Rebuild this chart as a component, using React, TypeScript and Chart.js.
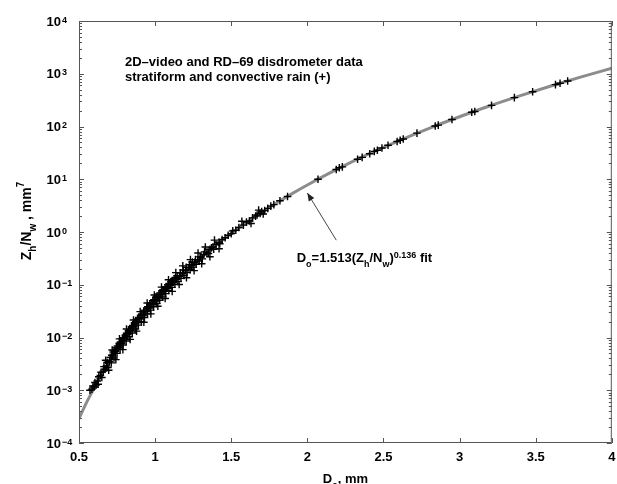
import { useEffect, useRef } from 'react';
import { Chart, registerables } from 'chart.js';

Chart.register(...registerables);

// ---- data ----
const xTickValues = [0.5, 1, 1.5, 2, 2.5, 3, 3.5, 4];
const yExponents = [-4, -3, -2, -1, 0, 1, 2, 3, 4];
const yExponentLabels = ['\u22124', '\u22123', '\u22122', '\u22121', '0', '1', '2', '3', '4'];

// fitted curve D0 = 1.513 (Zh/Nw)^0.136
const fitD = [0.5, 0.55, 0.6, 0.65, 0.7, 0.8, 0.9, 1.0, 1.1, 1.2, 1.3, 1.4, 1.5, 1.6, 1.7, 1.8, 1.9, 2.0, 2.2, 2.4, 2.6, 2.8, 3.0, 3.2, 3.4, 3.6, 3.8, 4.0];
const fitZ = [2.91e-4, 5.87e-4, 1.11e-3, 2.0e-3, 3.46e-3, 9.23e-3, 2.19e-2, 4.76e-2, 9.59e-2, 0.182, 0.328, 0.565, 0.939, 1.51, 2.36, 3.59, 5.34, 7.78, 15.7, 29.8, 53.6, 92.4, 153, 247, 385, 587, 873, 1273];

// disdrometer observations (+)
const obsD = [
  0.572, 0.585, 0.592, 0.600, 0.605, 0.612, 0.620, 0.626, 0.630, 0.640, 0.645, 0.650,
  0.660, 0.664, 0.672, 0.680, 0.685, 0.690, 0.700, 0.705, 0.712, 0.715,
  0.720, 0.725, 0.730, 0.733, 0.740, 0.745, 0.750, 0.753,
  0.760, 0.765, 0.770, 0.773, 0.780, 0.785, 0.790, 0.793,
  0.800, 0.805, 0.810, 0.813, 0.820, 0.825, 0.830, 0.833,
  0.840, 0.845, 0.850, 0.853, 0.860, 0.865, 0.870, 0.873,
  0.880, 0.885, 0.890, 0.893, 0.900, 0.905, 0.910, 0.913,
  0.920, 0.925, 0.930, 0.933, 0.940, 0.945, 0.950, 0.953,
  0.960, 0.965, 0.970, 0.973, 0.980, 0.985, 0.990, 0.993,
  1.000, 1.005, 1.010, 1.013, 1.020, 1.025, 1.030, 1.033,
  1.040, 1.045, 1.050, 1.053, 1.060, 1.065, 1.070, 1.073,
  1.080, 1.085, 1.090, 1.093, 1.100, 1.105, 1.110, 1.113,
  1.120, 1.125, 1.130, 1.133, 1.140, 1.145, 1.150,
  1.160, 1.165, 1.170, 1.180, 1.185, 1.190,
  1.200, 1.205, 1.210, 1.220, 1.225, 1.230,
  1.240, 1.245, 1.250, 1.260, 1.265, 1.270,
  1.280, 1.290, 1.295, 1.300, 1.310, 1.320, 1.325,
  1.340, 1.350, 1.360, 1.370, 1.380, 1.385, 1.400,
  1.420, 1.425, 1.440, 1.460,
  0.675, 0.695, 0.718, 0.742, 0.766, 0.788, 0.812, 0.836, 0.858, 0.878,
  0.902, 0.926, 0.948, 0.972, 0.995, 1.018, 1.042, 1.066, 1.088, 1.112,
  1.136, 1.158, 1.182, 1.206, 1.232, 1.256, 1.282, 1.306, 1.330, 1.360,
  1.390, 1.420,
  1.48, 1.50, 1.51, 1.53, 1.55, 1.57, 1.58, 1.60, 1.62, 1.63, 1.64, 1.66,
  1.67, 1.68, 1.69, 1.70, 1.71, 1.72, 1.74, 1.76, 1.78, 1.82, 1.87,
  2.07, 2.19, 2.21, 2.23, 2.33, 2.36, 2.41, 2.44, 2.46, 2.49,
  2.53, 2.59, 2.61, 2.63, 2.72, 2.84, 2.86, 2.95,
  3.08, 3.10, 3.21, 3.36, 3.48, 3.63, 3.66, 3.71,
];
const obsZ = [
  1.0e-3, 1.05e-3, 1.2e-3, 1.15e-3, 1.4e-3, 1.25e-3, 1.5e-3, 1.3e-3, 1.8e-3, 1.9e-3, 2.2e-3, 1.75e-3,
  2.3e-3, 2.8e-3, 2.5e-3, 2.9e-3, 3.4e-3, 2.7e-3, 3.5e-3, 4.2e-3, 3.3e-3, 4.6e-3,
  4.5e-3, 5.3e-3, 4.1e-3, 5.6e-3, 5.4e-3, 6.5e-3, 5.0e-3, 6.9e-3,
  6.4e-3, 7.8e-3, 6.0e-3, 8.2e-3, 7.8e-3, 9.4e-3, 7.2e-3, 9.9e-3,
  9.5e-3, 1.12e-2, 8.6e-3, 1.2e-2, 1.15e-2, 1.35e-2, 1.03e-2, 1.42e-2,
  1.35e-2, 1.6e-2, 1.22e-2, 1.7e-2, 1.6e-2, 1.9e-2, 1.45e-2, 2.0e-2,
  1.9e-2, 2.25e-2, 1.72e-2, 2.4e-2, 2.25e-2, 2.65e-2, 2.0e-2, 2.8e-2,
  2.6e-2, 3.1e-2, 2.4e-2, 3.3e-2, 3.1e-2, 3.65e-2, 2.8e-2, 3.85e-2,
  3.6e-2, 4.3e-2, 3.3e-2, 4.5e-2, 4.2e-2, 5.0e-2, 3.8e-2, 5.2e-2,
  4.9e-2, 5.8e-2, 4.4e-2, 6.0e-2, 5.6e-2, 6.6e-2, 5.1e-2, 7.0e-2,
  6.5e-2, 7.7e-2, 5.9e-2, 8.0e-2, 7.5e-2, 8.8e-2, 6.8e-2, 9.2e-2,
  8.6e-2, 0.100, 7.8e-2, 0.105, 9.8e-2, 0.115, 8.9e-2, 0.120,
  0.112, 0.130, 0.102, 0.136, 0.127, 0.148, 0.116,
  0.145, 0.168, 0.132, 0.165, 0.190, 0.150,
  0.186, 0.215, 0.170, 0.210, 0.240, 0.192,
  0.236, 0.270, 0.216, 0.265, 0.300, 0.245,
  0.300, 0.280, 0.340, 0.335, 0.310, 0.375, 0.420,
  0.410, 0.390, 0.470, 0.500, 0.520, 0.470, 0.580,
  0.640, 0.600, 0.720, 0.780,
  3.7e-3, 2.4e-3, 5.8e-3, 3.8e-3, 9.4e-3, 5.9e-3, 1.45e-2, 9.2e-3, 2.15e-2, 1.32e-2,
  3.1e-2, 1.95e-2, 4.5e-2, 2.8e-2, 6.4e-2, 3.9e-2, 9.0e-2, 5.5e-2, 0.124, 0.075,
  0.170, 0.101, 0.228, 0.136, 0.300, 0.185, 0.400, 0.250, 0.520, 0.340,
  0.700, 0.480,
  0.87, 0.93, 1.05, 1.08, 1.22, 1.60, 1.35, 1.55, 1.62, 1.45, 1.85, 2.0,
  2.1, 2.6, 2.25, 2.45, 2.2, 2.55, 2.8, 3.1, 3.3, 3.9, 4.7,
  10.0, 15.3, 16.5, 17.2, 24.0, 26, 30.5, 33.7, 35.5, 39,
  44, 52, 55, 58, 75, 102, 106, 136,
  186, 192, 252, 353, 457, 623, 662, 730,
];

// annotation anchor points (data coordinates)
const arrowTip = { x: 2.0, y: 5.5 };
const arrowTail = { x: 2.19, y: 0.7 };

const FONT = '"Liberation Sans", Arial, Helvetica, sans-serif';

type Seg = { t: string; size: number; dy?: number };

function drawRich(ctx: CanvasRenderingContext2D, x: number, y: number, segs: Seg[], align: 'left' | 'center' | 'right' = 'left') {
  let w = 0;
  for (const s of segs) {
    ctx.font = `bold ${s.size}px ${FONT}`;
    w += ctx.measureText(s.t).width;
  }
  let cx = align === 'center' ? x - w / 2 : align === 'right' ? x - w : x;
  ctx.textAlign = 'left';
  ctx.textBaseline = 'alphabetic';
  for (const s of segs) {
    ctx.font = `bold ${s.size}px ${FONT}`;
    ctx.fillText(s.t, cx, y + (s.dy || 0));
    cx += ctx.measureText(s.t).width;
  }
}

const decorPlugin = {
  id: 'decor',
  afterDraw(chart: any) {
    const { ctx, chartArea, scales } = chart;
    const { left, right, top, bottom } = chartArea;
    const xs = scales.x;
    const ys = scales.y;
    ctx.save();

    // frame
    ctx.strokeStyle = '#555';
    ctx.lineWidth = 1;
    ctx.strokeRect(left + 0.5, top + 0.5, right - left - 1, bottom - top - 1);

    // x ticks (inward, bottom and top)
    ctx.beginPath();
    for (const v of xTickValues) {
      const px = Math.round(xs.getPixelForValue(v)) + 0.5;
      ctx.moveTo(px, bottom);
      ctx.lineTo(px, bottom - 5);
      ctx.moveTo(px, top);
      ctx.lineTo(px, top + 5);
    }
    // y ticks (major + minor, both sides)
    for (let e = -4; e < 4; e++) {
      for (let m = 1; m <= 9; m++) {
        const py = Math.round(ys.getPixelForValue(m * Math.pow(10, e))) + 0.5;
        const len = m === 1 ? 5 : 3;
        ctx.moveTo(left, py);
        ctx.lineTo(left + len, py);
        ctx.moveTo(right, py);
        ctx.lineTo(right - len, py);
      }
    }
    ctx.stroke();

    ctx.fillStyle = '#000';
    // y tick labels with superscripts
    yExponents.forEach((e, i) => {
      const py = ys.getPixelForValue(Math.pow(10, e));
      drawRich(ctx, left - 18, py + 4.7, [{ t: '10', size: 13 }], 'right');
      drawRich(ctx, left - 17, py + 1.5, [{ t: yExponentLabels[i], size: 9 }], 'left');
    });

    // x axis title
    drawRich(ctx, (left + right) / 2, chart.height - 1, [
      { t: 'D', size: 13 },
      { t: 'o', size: 9, dy: 5 },
      { t: ', mm', size: 13 },
    ], 'center');

    // y axis title (rotated)
    ctx.save();
    ctx.translate(31, (top + bottom) / 2 - 11);
    ctx.rotate(-Math.PI / 2);
    drawRich(ctx, 0, 0, [
      { t: 'Z', size: 14 },
      { t: 'h', size: 10, dy: 5 },
      { t: '/N', size: 14 },
      { t: 'w', size: 10, dy: 5 },
      { t: ' , mm', size: 14 },
      { t: '7', size: 10, dy: -7 },
    ], 'center');
    ctx.restore();

    // top-left text
    drawRich(ctx, left + 46, top + 45, [{ t: '2D\u2013video and RD\u201369 disdrometer data', size: 13 }]);
    drawRich(ctx, left + 46, top + 60, [{ t: 'stratiform and convective rain (+)', size: 13 }]);

    // arrow
    const tx = xs.getPixelForValue(arrowTip.x);
    const ty = ys.getPixelForValue(arrowTip.y);
    const sx = xs.getPixelForValue(arrowTail.x);
    const sy = ys.getPixelForValue(arrowTail.y);
    ctx.strokeStyle = '#444';
    ctx.lineWidth = 1;
    ctx.beginPath();
    ctx.moveTo(sx, sy);
    ctx.lineTo(tx, ty);
    ctx.stroke();
    const ang = Math.atan2(ty - sy, tx - sx);
    const ah = 8, aw = 3.2;
    ctx.fillStyle = '#222';
    ctx.beginPath();
    ctx.moveTo(tx, ty);
    ctx.lineTo(tx - ah * Math.cos(ang) + aw * Math.sin(ang), ty - ah * Math.sin(ang) - aw * Math.cos(ang));
    ctx.lineTo(tx - ah * Math.cos(ang) - aw * Math.sin(ang), ty - ah * Math.sin(ang) + aw * Math.cos(ang));
    ctx.closePath();
    ctx.fill();

    // fit annotation
    ctx.fillStyle = '#000';
    const ax = xs.getPixelForValue(1.93);
    const ay = ys.getPixelForValue(0.27);
    drawRich(ctx, ax, ay, [
      { t: 'D', size: 13 },
      { t: 'o', size: 9, dy: 5 },
      { t: '=1.513(Z', size: 13 },
      { t: 'h', size: 9, dy: 5 },
      { t: '/N', size: 13 },
      { t: 'w', size: 9, dy: 5 },
      { t: ')', size: 13 },
      { t: '0.136', size: 9, dy: -4 },
      { t: ' fit', size: 13 },
    ]);

    ctx.restore();
  },
};

export default function App() {
  const ref = useRef<HTMLCanvasElement | null>(null);

  useEffect(() => {
    if (!ref.current) return;
    const chart = new Chart(ref.current, {
      type: 'scatter',
      data: {
        datasets: [
          {
            type: 'scatter',
            label: 'observations',
            data: obsD.map((d, i) => ({ x: d, y: obsZ[i] })),
            pointStyle: 'cross',
            pointRadius: 3.8,
            pointHoverRadius: 3.8,
            borderColor: '#000',
            backgroundColor: '#000',
            pointBorderWidth: 1.4,
            borderWidth: 1.4,
            order: 0,
          } as any,
          {
            type: 'line',
            label: 'fit',
            data: fitD.map((d, i) => ({ x: d, y: fitZ[i] })),
            borderColor: '#8c8c8c',
            borderWidth: 3,
            pointRadius: 0,
            cubicInterpolationMode: 'monotone',
            fill: false,
            order: 1,
          } as any,
        ],
      },
      options: {
        animation: false,
        responsive: false,
        devicePixelRatio: 1,
        layout: { padding: { top: 21, right: 5, left: 0, bottom: 0 } },
        plugins: {
          legend: { display: false },
          tooltip: { enabled: false },
        },
        scales: {
          x: {
            type: 'linear',
            min: 0.5,
            max: 4,
            grid: { display: false, drawTicks: false },
            border: { display: false },
            ticks: {
              stepSize: 0.5,
              padding: 7,
              color: '#000',
              font: { family: FONT, size: 13, weight: 'bold' },
              callback: (v: any) => String(Math.round(Number(v) * 10) / 10),
            },
            afterFit: (s: any) => {
              s.height = 41;
              s.paddingLeft = 0;
              s.paddingRight = 0;
            },
          },
          y: {
            type: 'logarithmic',
            min: 1e-4,
            max: 1e4,
            grid: { display: false, drawTicks: false },
            border: { display: false },
            ticks: { display: false },
            afterFit: (s: any) => {
              s.width = 79;
              s.paddingTop = 0;
              s.paddingBottom = 0;
            },
          },
        },
      } as any,
      plugins: [decorPlugin],
    });
    return () => chart.destroy();
  }, []);

  return (
    <div style={{ position: 'absolute', left: 0, top: 0, width: 617, height: 484, background: '#fff' }}>
      <canvas ref={ref} width={617} height={484} />
    </div>
  );
}
